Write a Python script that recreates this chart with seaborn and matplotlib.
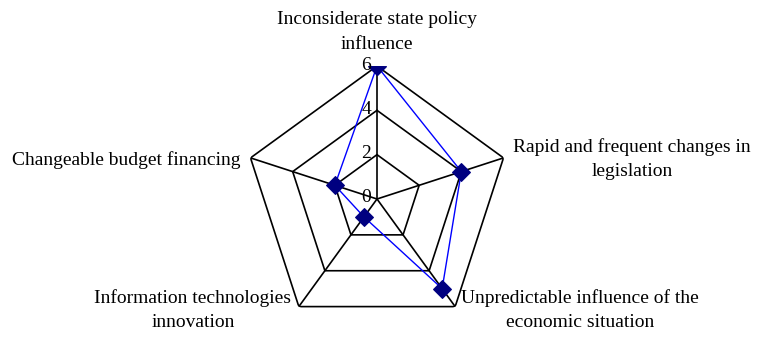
import numpy as np
import pandas as pd
import matplotlib
matplotlib.use("Agg")
import matplotlib.pyplot as plt
import matplotlib.transforms as mtransforms
import seaborn as sns

categories = [
    "Inconsiderate state policy\ninfluence",
    "Rapid and frequent changes in\nlegislation",
    "Unpredictable influence of the\neconomic situation",
    "Information technologies\ninnovation",
    "Changeable budget financing",
]
values = [6, 4, 5, 1, 2]
tick_values = [0, 2, 4, 6]
tick_labels = ["0", "2", "4", "6"]

sns.set_theme(style="white")
plt.rcParams["font.family"] = ["Liberation Serif", "DejaVu Serif"]

W, H = 757, 337
fig = plt.figure(figsize=(W / 100, H / 100), dpi=100)
cx, cy, R = 377, 199, 133
ax = fig.add_axes([(cx - R) / W, (H - cy - R) / H, 2 * R / W, 2 * R / H], projection="polar")
ax.set_theta_offset(np.pi / 2)
ax.set_theta_direction(-1)
ax.set_ylim(0, max(tick_values))
ax.grid(False)
ax.spines["polar"].set_visible(False)
ax.set_xticks([])
ax.set_yticks([])
ax.patch.set_alpha(0)

n = len(categories)
angles = np.arange(n) * 2 * np.pi / n
closed = np.append(angles, 2 * np.pi)

# pentagonal grid and spokes
for lv in tick_values[1:]:
    ax.plot(closed, [lv] * (n + 1), color="black", lw=1.2, zorder=1)
for a in angles:
    ax.plot([a, a], [0, max(tick_values)], color="black", lw=1.2, zorder=1)

df = pd.DataFrame({"theta": closed, "r": values + [values[0]]})
sns.lineplot(data=df, x="theta", y="r", ax=ax, sort=False, estimator=None, color="#0000FF",
             lw=1.0, marker="D", markersize=9, markerfacecolor="#000080",
             markeredgecolor="#000080", zorder=3)
ax.set_xlabel("")
ax.set_ylabel("")
ax.set_xticks([])
ax.set_yticks([])
ax.set_ylim(0, max(tick_values))

off = mtransforms.offset_copy(ax.transData, fig=fig, x=-11, y=1, units="dots")
for v, t in zip(tick_values, tick_labels):
    ax.text(0, v, t, transform=off, ha="center", va="center", fontsize=14, color="black")

fs = 14
def ftext(x, y, s, ha="center"):
    fig.text(x / W, 1 - y / H, s, ha=ha, va="center", fontsize=fs, linespacing=1.55,
             multialignment="center", color="black")

ftext(377, 32, categories[0])
ftext(632, 159, categories[1])
ftext(580, 310, categories[2])
ftext(193, 310, categories[3])
ftext(126, 160, categories[4])

fig.savefig("out.png", dpi=100)
